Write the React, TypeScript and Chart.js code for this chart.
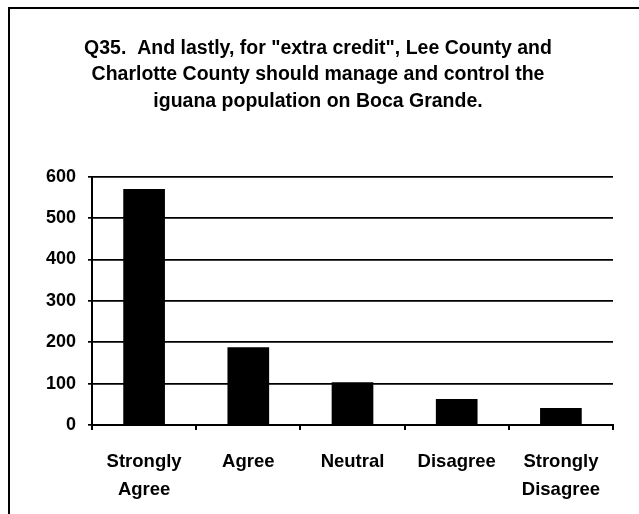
import React, { useEffect, useRef } from "react";
import { Chart, registerables } from "chart.js";

Chart.register(...registerables);

const categories: (string | string[])[] = [
  ["Strongly", "Agree"],
  "Agree",
  "Neutral",
  "Disagree",
  ["Strongly", "Disagree"],
];
const responses: number[] = [570, 188, 103, 63, 41];
const titleLines: string[] = [
  'Q35.  And lastly, for "extra credit", Lee County and',
  "Charlotte County should manage and control the",
  "iguana population on Boca Grande.",
];
const yMin = 0;
const yMax = 600;
const yStep = 100;

const FONT = '"Liberation Sans", Arial, Helvetica, sans-serif';

export default function App() {
  const ref = useRef<HTMLCanvasElement | null>(null);

  useEffect(() => {
    if (!ref.current) return;
    const chart = new Chart(ref.current, {
      type: "bar",
      data: {
        labels: categories,
        datasets: [
          {
            data: responses,
            backgroundColor: "#000000",
            borderWidth: 0,
            barPercentage: 0.4,
            categoryPercentage: 1,
          },
        ],
      },
      options: {
        animation: false,
        responsive: false,
        maintainAspectRatio: false,
        layout: { padding: { left: 9, right: 12, top: 0, bottom: 0 } },
        plugins: {
          legend: { display: false },
          tooltip: { enabled: false },
          title: {
            display: true,
            text: titleLines,
            color: "#000",
            font: { family: FONT, size: 19.5, weight: "bold", lineHeight: 1.36 },
            padding: { top: 35, bottom: 62 },
          },
        },
        scales: {
          x: {
            offset: true,
            grid: {
              display: true,
              offset: true,
              drawOnChartArea: false,
              drawTicks: true,
              tickLength: 5,
              color: "#000",
              lineWidth: 2,
            },
            border: { display: true, color: "#000", width: 2 },
            ticks: {
              color: "#000",
              font: { family: FONT, size: 18.5, weight: "bold", lineHeight: 1.52 },
              padding: 18,
              maxRotation: 0,
              autoSkip: false,
            },
            afterFit: (s: any) => {
              s.height = 89;
            },
          },
          y: {
            min: yMin,
            max: yMax,
            grid: {
              display: true,
              color: "#000",
              lineWidth: 1.7,
              drawTicks: true,
              tickLength: 4,
            },
            border: { display: true, color: "#000", width: 2 },
            ticks: {
              stepSize: yStep,
              color: "#000",
              font: { family: FONT, size: 18, weight: "bold" },
              padding: 12,
            },
            afterFit: (s: any) => {
              s.width = 83;
            },
          },
          yRight: {
            position: "right",
            min: yMin,
            max: yMax,
            grid: { display: false, drawTicks: false },
            border: { display: false },
            ticks: { display: false },
            afterFit: (s: any) => {
              s.width = 14;
            },
          },
        },
      },
    });
    return () => chart.destroy();
  }, []);

  return (
    <div
      style={{
        position: "fixed",
        left: 0,
        top: 0,
        width: 639,
        height: 514,
        background: "#fff",
        overflow: "hidden",
      }}
    >
      <div
        style={{
          position: "absolute",
          left: 8,
          top: 7,
          width: 700,
          height: 600,
          borderLeft: "2px solid #000",
          borderTop: "2px solid #000",
        }}
      />
      <canvas
        ref={ref}
        width={639}
        height={514}
        style={{ position: "absolute", left: 0, top: 0, width: 639, height: 514 }}
      />
    </div>
  );
}
